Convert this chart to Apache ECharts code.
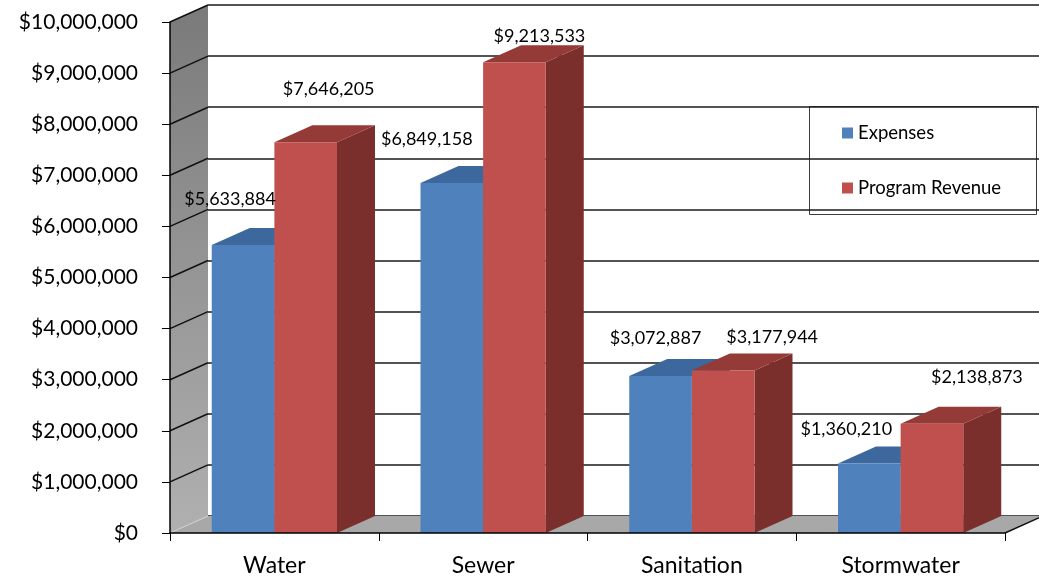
<!DOCTYPE html>
<html>
<head>
<meta charset="utf-8">
<script src="https://cdn.jsdelivr.net/npm/echarts@6/dist/echarts.min.js"></script>
<style>
  html, body { margin: 0; padding: 0; background: #ffffff; }
  #chart { width: 1039px; height: 579px; }
</style>
</head>
<body>
<div id="chart"></div>
<script>
// ---- data ----
const categories = ['Water', 'Sewer', 'Sanitation', 'Stormwater'];
const expenses = [5633884, 6849158, 3072887, 1360210];
const programRevenue = [7646205, 9213533, 3177944, 2138873];
const yTicks = [0, 1000000, 2000000, 3000000, 4000000, 5000000,
                6000000, 7000000, 8000000, 9000000, 10000000];

// ---- 3-D look ----
const DEPTH_X = 38;     // horizontal shift of the back plane
const DEPTH_Y = -17;    // vertical shift of the back plane
const BAR_FRACTION = 0.3; // bar width as a share of one category band
const FONT = 'Lato';

// value-label nudges relative to the top centre of each bar's front face
const expenseLabelShift = [[-13, -46], [-25, -44], [-5, -38], [-23, -34]];
const revenueLabelShift = [[23, -53], [25, -26], [49, -33], [45, -47]];

const money = v => '$' + Number(v).toLocaleString('en-US');

function makeBarRenderer(half, colors, shifts) {
  return function (params, api) {
    const i = api.value(0);
    const v = api.value(1);
    const base = api.coord([i, 0]);
    const peak = api.coord([i, v]);
    const w = api.size([1, 0])[0] * BAR_FRACTION;
    const x0 = half === 0 ? base[0] - w : base[0];
    const x1 = x0 + w;
    const yb = base[1];
    const yt = peak[1];
    const sh = shifts[params.dataIndex];
    return {
      type: 'group',
      children: [
        { type: 'polygon',
          shape: { points: [[x1, yt], [x1 + DEPTH_X, yt + DEPTH_Y], [x1 + DEPTH_X, yb + DEPTH_Y], [x1, yb]] },
          style: { fill: colors.side } },
        { type: 'polygon',
          shape: { points: [[x0, yt], [x1, yt], [x1 + DEPTH_X, yt + DEPTH_Y], [x0 + DEPTH_X, yt + DEPTH_Y]] },
          style: { fill: colors.top } },
        { type: 'rect',
          shape: { x: x0, y: yt, width: w, height: yb - yt },
          style: { fill: colors.face } },
        { type: 'text', z2: 100,
          style: { text: money(v), x: (x0 + x1) / 2 + sh[0], y: yt + sh[1],
                   align: 'center', verticalAlign: 'middle',
                   fontFamily: FONT, fontSize: 18, fill: '#000' } }
      ]
    };
  };
}

// side wall, floor and the wall's slanted grid strokes
function renderScenery(params, api) {
  const cs = params.coordSys;
  const left = cs.x, right = cs.x + cs.width;
  const top = cs.y, bottom = cs.y + cs.height;
  const children = [
    { type: 'polygon',
      shape: { points: [[left, top], [left + DEPTH_X, top + DEPTH_Y], [left + DEPTH_X, bottom + DEPTH_Y], [left, bottom]] },
      style: { fill: { type: 'linear', x: 0, y: 0, x2: 0, y2: 1,
                       colorStops: [{ offset: 0, color: '#7a7a7a' }, { offset: 1, color: '#b0b0b0' }] } } },
    { type: 'polygon',
      shape: { points: [[left, bottom], [right, bottom], [right + DEPTH_X, bottom + DEPTH_Y], [left + DEPTH_X, bottom + DEPTH_Y]] },
      style: { fill: '#a8a8a8' } },
    { type: 'line',
      shape: { x1: right, y1: bottom, x2: right + DEPTH_X, y2: bottom + DEPTH_Y },
      style: { stroke: '#111', lineWidth: 1.5 } },
    { type: 'line',
      shape: { x1: left, y1: bottom, x2: left + DEPTH_X, y2: bottom + DEPTH_Y },
      style: { stroke: '#d0d0d0', lineWidth: 1 } }
  ];
  yTicks.forEach(t => {
    if (t === 0) return;
    const y = api.coord([0, t])[1];
    children.push({ type: 'line',
      shape: { x1: left, y1: y, x2: left + DEPTH_X, y2: y + DEPTH_Y },
      style: { stroke: '#111', lineWidth: 1.5 } });
  });
  return { type: 'group', children };
}

const chart = echarts.init(document.getElementById('chart'), null, { renderer: 'canvas' });

chart.setOption({
  animation: false,
  backgroundColor: '#ffffff',
  grid: [
    { left: 170, right: 34, top: 22, bottom: 46 },
    { left: 170 + DEPTH_X, right: 0, top: 22 + DEPTH_Y, bottom: 46 - DEPTH_Y }
  ],
  legend: {
    data: ['Expenses', 'Program Revenue'],
    orient: 'vertical',
    left: 842, top: 123,
    padding: 0,
    itemWidth: 11, itemHeight: 11, itemGap: 35,
    icon: 'rect',
    selectedMode: false,
    textStyle: { fontFamily: FONT, fontSize: 18.5, color: '#000', lineHeight: 20 }
  },
  graphic: [
    { type: 'rect', silent: true,
      shape: { x: 809.5, y: 106.5, width: 227, height: 108 },
      style: { fill: 'none', stroke: '#3c3c3c', lineWidth: 1 } }
  ],
  xAxis: [
    { gridIndex: 0, type: 'category', data: categories, boundaryGap: true, z: 5,
      axisLine: { show: true, lineStyle: { color: '#000', width: 1.5 } },
      axisTick: { show: true, length: 8, lineStyle: { color: '#000' } },
      axisLabel: { fontFamily: FONT, fontSize: 23, color: '#000', margin: 21 },
      splitLine: { show: false } },
    { gridIndex: 1, type: 'category', data: categories, show: false }
  ],
  yAxis: [
    { gridIndex: 0, type: 'value',
      min: yTicks[0], max: yTicks[yTicks.length - 1], interval: yTicks[1] - yTicks[0], z: 5,
      axisLine: { show: true, lineStyle: { color: '#000', width: 1.5 } },
      axisTick: { show: true, length: 8, lineStyle: { color: '#000' } },
      axisLabel: { formatter: money, fontFamily: FONT, fontSize: 21, color: '#000', margin: 32 },
      splitLine: { show: false } },
    { gridIndex: 1, type: 'value',
      min: yTicks[0], max: yTicks[yTicks.length - 1], interval: yTicks[1] - yTicks[0],
      axisLine: { show: false }, axisTick: { show: false }, axisLabel: { show: false },
      splitLine: { show: true, lineStyle: { color: '#1a1a1a', width: 1.5 } } }
  ],
  series: [
    { type: 'custom', name: 'scenery', silent: true, z: 1,
      xAxisIndex: 0, yAxisIndex: 0,
      data: [[0, 0]],
      renderItem: renderScenery },
    { type: 'custom', name: 'Expenses', z: 2,
      xAxisIndex: 0, yAxisIndex: 0,
      itemStyle: { color: '#4f81bd' },
      encode: { x: 0, y: 1 },
      data: expenses.map((v, i) => [i, v]),
      renderItem: makeBarRenderer(0, { face: '#4f81bd', top: '#3d689d', side: '#335a88' }, expenseLabelShift) },
    { type: 'custom', name: 'Program Revenue', z: 2,
      xAxisIndex: 0, yAxisIndex: 0,
      itemStyle: { color: '#c0504d' },
      encode: { x: 0, y: 1 },
      data: programRevenue.map((v, i) => [i, v]),
      renderItem: makeBarRenderer(1, { face: '#c0504d', top: '#943a37', side: '#7b2f2d' }, revenueLabelShift) }
  ]
});
</script>
</body>
</html>
